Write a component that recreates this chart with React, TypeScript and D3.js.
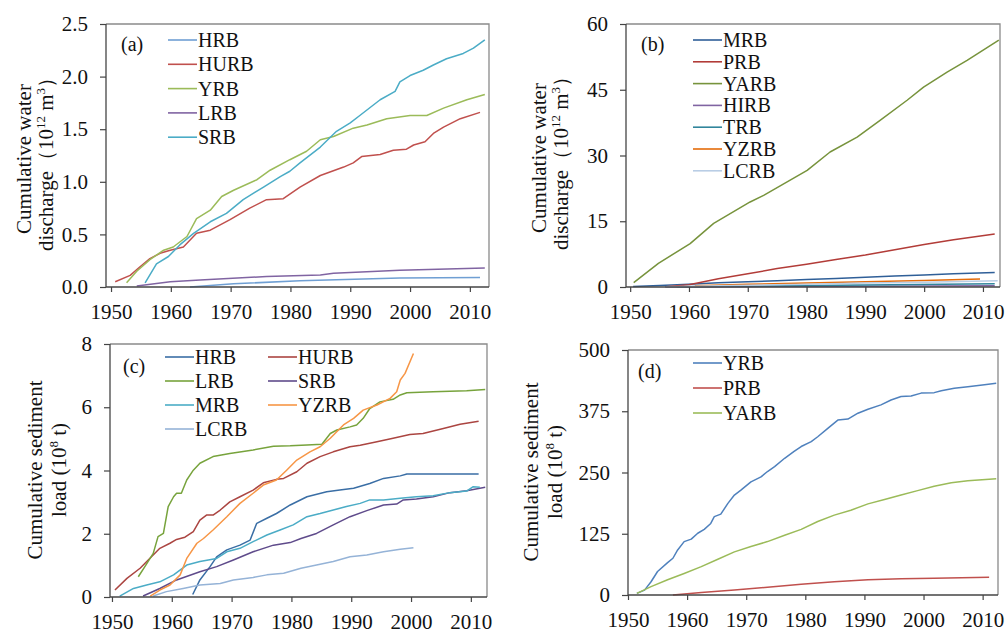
import React, { useRef, useEffect } from "react";
import * as d3 from "d3";

type Pt = [number, number];

// (a) cumulative water discharge (10^12 m3)
const aHRB: Pt[] = [[1963.2, 0], [1970.5, 0.03], [1981.6, 0.06], [1998.3, 0.085], [2011.7, 0.09]];
const aHURB: Pt[] = [[1950.7, 0.05], [1953.2, 0.11], [1954.8, 0.19], [1956.5, 0.27], [1958.2, 0.32], [1959.9, 0.35], [1962.1, 0.38], [1964.3, 0.51], [1966.6, 0.54], [1969.9, 0.64], [1973.2, 0.75], [1976, 0.83], [1978.8, 0.84], [1981.6, 0.95], [1985, 1.06], [1988.9, 1.14], [1990.5, 1.18], [1991.9, 1.24], [1995, 1.26], [1997.2, 1.3], [1999.4, 1.31], [2000.6, 1.35], [2002.5, 1.38], [2003.9, 1.46], [2005.6, 1.52], [2008.4, 1.6], [2011.7, 1.66]];
const aYRB: Pt[] = [[1952.6, 0.04], [1954.3, 0.15], [1956.5, 0.26], [1958.8, 0.35], [1960.4, 0.38], [1962.7, 0.48], [1964.3, 0.65], [1966.6, 0.73], [1968.5, 0.86], [1970.5, 0.92], [1974.4, 1.02], [1976.6, 1.11], [1979.9, 1.21], [1982.7, 1.29], [1985, 1.4], [1987.2, 1.43], [1990.5, 1.51], [1992.8, 1.54], [1996.1, 1.6], [2000, 1.63], [2002.8, 1.63], [2005.6, 1.7], [2009.5, 1.78], [2012.5, 1.83]];
const aLRB: Pt[] = [[1954.3, 0.01], [1959.9, 0.05], [1964.9, 0.067], [1976, 0.1], [1985, 0.115], [1987.2, 0.13], [1998.3, 0.16], [2012.5, 0.18]];
const aSRB: Pt[] = [[1955.7, 0.04], [1957.6, 0.22], [1959.6, 0.29], [1961.5, 0.4], [1963.8, 0.51], [1966.6, 0.62], [1969.3, 0.7], [1972.1, 0.83], [1975.5, 0.95], [1978.3, 1.05], [1979.9, 1.1], [1981.6, 1.18], [1985, 1.33], [1987.7, 1.48], [1990, 1.56], [1991.6, 1.63], [1995, 1.78], [1997.5, 1.86], [1998.3, 1.95], [2000, 2.01], [2002.2, 2.06], [2003.9, 2.11], [2006.1, 2.17], [2008.9, 2.22], [2010.6, 2.27], [2012.5, 2.35]];

// (b) cumulative water discharge (10^12 m3)
const bMRB: Pt[] = [[1950.5, 0.1], [1955, 0.35], [1960, 0.65], [1965, 0.95], [1970, 1.2], [1975, 1.45], [1980, 1.7], [1985, 1.95], [1990, 2.25], [1995, 2.5], [2000, 2.75], [2005, 3.0], [2012, 3.3]];
const bPRB: Pt[] = [[1956, 0.05], [1958, 0.3], [1960, 0.5], [1965, 1.9], [1970, 3.0], [1975, 4.2], [1980, 5.2], [1985, 6.3], [1990, 7.3], [1995, 8.5], [2000, 9.7], [2005, 10.8], [2012, 12.1]];
const bYARB: Pt[] = [[1950.6, 1.0], [1954.8, 5.4], [1960.2, 9.9], [1964.2, 14.5], [1970.4, 19.4], [1972.7, 20.9], [1980.1, 26.6], [1984, 30.8], [1988.6, 34.2], [1992.5, 38], [1997.1, 42.6], [1999.9, 45.6], [2003.9, 49], [2007.3, 51.7], [2012.7, 56.3]];
const bHIRB: Pt[] = [[1956, 0.02], [1970, 0.08], [1990, 0.18], [2012, 0.3]];
const bTRB: Pt[] = [[1958, 0.05], [1970, 0.2], [1990, 0.45], [2012, 0.75]];
const bYZRB: Pt[] = [[1961, 0.3], [1970, 0.6], [1980, 0.9], [1990, 1.2], [2000, 1.5], [2009.5, 1.8]];
const bLCRB: Pt[] = [[1956, 0.05], [1970, 0.4], [1980, 0.65], [1990, 0.9], [2000, 1.1], [2012.5, 1.4]];

// (c) cumulative sediment load (10^8 t)
const cHRB: Pt[] = [[1963.5, 0.08], [1964.7, 0.54], [1966.4, 0.96], [1967.5, 1.27], [1969.2, 1.49], [1971.4, 1.64], [1973.1, 1.8], [1974.2, 2.33], [1975.9, 2.49], [1977.5, 2.64], [1979.8, 2.91], [1982.6, 3.17], [1985.9, 3.33], [1988.1, 3.38], [1990.4, 3.44], [1993.1, 3.59], [1995.4, 3.75], [1998.2, 3.83], [1999.3, 3.89], [2003.7, 3.89], [2011.3, 3.89]];
const cHURB: Pt[] = [[1950.5, 0.22], [1952.5, 0.59], [1954.7, 0.91], [1956.6, 1.27], [1958, 1.54], [1959.7, 1.7], [1960.8, 1.82], [1962.2, 1.89], [1963.6, 2.07], [1964.7, 2.43], [1965.8, 2.59], [1966.9, 2.59], [1968.1, 2.75], [1969.7, 3.01], [1971.4, 3.17], [1973.6, 3.38], [1975.3, 3.61], [1977.5, 3.72], [1978.7, 3.75], [1980.9, 3.96], [1982.6, 4.23], [1984.8, 4.44], [1987, 4.59], [1989.8, 4.75], [1991.5, 4.8], [1994.3, 4.91], [1997, 5.02], [1999.8, 5.14], [2002, 5.17], [2005.4, 5.33], [2008.2, 5.46], [2011.3, 5.56]];
const cLRB: Pt[] = [[1954.4, 0.64], [1955.5, 0.96], [1956.9, 1.38], [1957.7, 1.91], [1958.6, 2.01], [1959.4, 2.86], [1960.3, 3.17], [1960.8, 3.28], [1961.6, 3.28], [1962.5, 3.7], [1963.6, 4.01], [1964.7, 4.23], [1966.9, 4.44], [1969.7, 4.54], [1973.6, 4.65], [1977, 4.77], [1979.8, 4.78], [1982.6, 4.81], [1985.1, 4.83], [1986.5, 5.17], [1987.6, 5.28], [1989.8, 5.38], [1990.9, 5.44], [1992, 5.65], [1993.1, 5.96], [1994.8, 6.17], [1997, 6.25], [1998.2, 6.39], [1999.3, 6.46], [2003.7, 6.49], [2009.3, 6.52], [2012.4, 6.56]];
const cSRB: Pt[] = [[1955.2, 0.03], [1958, 0.27], [1960.8, 0.54], [1964.7, 0.8], [1967.5, 0.96], [1970.3, 1.17], [1973.6, 1.43], [1977, 1.64], [1979.8, 1.72], [1981.6, 1.85], [1984.2, 2.01], [1987, 2.28], [1989.8, 2.54], [1992.6, 2.73], [1995.4, 2.91], [1997.6, 2.94], [1998.7, 3.07], [2000.9, 3.1], [2003.7, 3.17], [2006.5, 3.3], [2009.3, 3.36], [2012.4, 3.47]];
const cMRB: Pt[] = [[1951.3, 0.03], [1953.6, 0.27], [1955.8, 0.38], [1958, 0.48], [1960.3, 0.7], [1962.5, 1.01], [1964.7, 1.12], [1967.5, 1.22], [1969.2, 1.43], [1971.4, 1.54], [1973.6, 1.75], [1975.9, 1.96], [1978.1, 2.12], [1980.3, 2.28], [1982.6, 2.54], [1984.8, 2.64], [1987, 2.75], [1989.2, 2.86], [1991.5, 2.96], [1993.1, 3.07], [1995.4, 3.07], [1998.2, 3.12], [2000.9, 3.17], [2003.7, 3.2], [2006.5, 3.3], [2009.3, 3.35], [2010.4, 3.49], [2011.5, 3.47]];
const cYZRB: Pt[] = [[1956.4, 0.03], [1958, 0.22], [1959.7, 0.38], [1961.4, 0.7], [1962.5, 1.22], [1964.2, 1.7], [1965.3, 1.85], [1966.9, 2.12], [1969.2, 2.54], [1971.4, 2.96], [1973.6, 3.28], [1975.3, 3.54], [1977.5, 3.7], [1979.2, 4.01], [1980.9, 4.33], [1983.1, 4.59], [1984.8, 4.75], [1986.5, 5.02], [1988.7, 5.44], [1990.4, 5.65], [1992, 5.91], [1994.3, 6.07], [1996.5, 6.28], [1997.6, 6.49], [1998.2, 6.86], [1999, 7.07], [2000.4, 7.7]];
const cLCRB: Pt[] = [[1956.9, 0.03], [1959.1, 0.17], [1961.9, 0.27], [1964.7, 0.38], [1968.1, 0.43], [1970.3, 0.54], [1973.6, 0.62], [1975.9, 0.7], [1978.7, 0.75], [1981.6, 0.91], [1984.2, 1.01], [1987, 1.12], [1989.8, 1.27], [1992.6, 1.33], [1995.4, 1.43], [1998.2, 1.51], [2000.4, 1.56]];

// (d) cumulative sediment load (10^8 t)
const dYRB: Pt[] = [[1951.5, 3.4], [1952.8, 10], [1953.9, 27], [1955, 48], [1956.7, 66], [1957.6, 75], [1958.4, 92], [1959.5, 109], [1960.7, 114], [1961.8, 126], [1962.9, 134], [1964, 146], [1964.6, 160], [1965.7, 165], [1966.9, 187], [1968, 204], [1969.1, 214], [1970.8, 231], [1972.5, 241], [1973.6, 252], [1974.8, 262], [1976.5, 279], [1978.1, 293], [1979.3, 303], [1981, 313], [1982.1, 323], [1983.8, 340], [1985.5, 357], [1987.2, 359], [1988.9, 371], [1990.6, 379], [1992.8, 388], [1994.5, 398], [1996.2, 405], [1997.9, 406], [1999.6, 412], [2001.8, 413], [2003, 417], [2005.2, 422], [2007.5, 425], [2010.3, 429], [2012.3, 432]];
const dPRB: Pt[] = [[1957.6, 0], [1962.4, 5], [1968, 10], [1973.6, 16], [1979.3, 22], [1984.9, 27], [1990.6, 31], [1996.2, 33], [2001.8, 34], [2011.1, 36]];
const dYARB: Pt[] = [[1951.5, 3.4], [1953.9, 17], [1956.7, 31], [1959.5, 44], [1962.4, 58], [1965.2, 73], [1968, 88], [1970.8, 99], [1973.6, 109], [1976.5, 122], [1979.3, 134], [1982.1, 150], [1984.9, 163], [1987.7, 173], [1990.6, 186], [1993.4, 195], [1996.2, 204], [1999, 213], [2001.8, 222], [2004.7, 229], [2007.5, 233], [2012.3, 237]];

const yearTicks = [1950, 1960, 1970, 1980, 1990, 2000, 2010];
const aTicks = [0, 0.5, 1.0, 1.5, 2.0, 2.5];
const bTicks = [0, 15, 30, 45, 60];
const cTicks = [0, 2, 4, 6, 8];
const dTicks = [0, 125, 250, 375, 500];

type Seg = { t: string; sup?: boolean };
interface Series { name: string; color: string; data: Pt[] }
interface Panel {
  tag: string;
  box: { l: number; r: number; t: number; b: number };
  xDom: [number, number];
  yTicks: number[];
  fmt: (v: number) => string;
  label: { lines: Seg[][]; xs: number[]; cy: number };
  legend: { x: number[]; y: number; step: number; cols: number };
  tagPos: [number, number];
  series: Series[];
}

const waterUnit: Seg[] = [{ t: "discharge（10" }, { t: "12", sup: true }, { t: " m" }, { t: "3", sup: true }, { t: "）" }];
const sedUnit: Seg[] = [{ t: "load (10" }, { t: "8", sup: true }, { t: " t)" }];

const panels: Panel[] = [
  {
    tag: "(a)", box: { l: 106, r: 489, t: 24, b: 287 }, xDom: [1949.16, 2013.2],
    yTicks: aTicks, fmt: d3.format(".1f"),
    label: { lines: [[{ t: "Cumulative water" }], waterUnit], xs: [31, 53], cy: 159 },
    legend: { x: [168], y: 40, step: 24.3, cols: 1 }, tagPos: [121, 51],
    series: [
      { name: "HRB", color: "#6f9fd3", data: aHRB },
      { name: "HURB", color: "#c0504d", data: aHURB },
      { name: "YRB", color: "#9bbb59", data: aYRB },
      { name: "LRB", color: "#8064a2", data: aLRB },
      { name: "SRB", color: "#4bacc6", data: aSRB },
    ],
  },
  {
    tag: "(b)", box: { l: 626, r: 1000, t: 24, b: 287 }, xDom: [1949.29, 2012.9],
    yTicks: bTicks, fmt: d3.format("d"),
    label: { lines: [[{ t: "Cumulative water" }], waterUnit], xs: [546, 568], cy: 158 },
    legend: { x: [693], y: 40, step: 21.8, cols: 1 }, tagPos: [641, 51],
    series: [
      { name: "MRB", color: "#2f5f98", data: bMRB },
      { name: "PRB", color: "#b23c38", data: bPRB },
      { name: "YARB", color: "#77933c", data: bYARB },
      { name: "HIRB", color: "#8064a2", data: bHIRB },
      { name: "TRB", color: "#31859c", data: bTRB },
      { name: "YZRB", color: "#e46c0a", data: bYZRB },
      { name: "LCRB", color: "#b9cde5", data: bLCRB },
    ],
  },
  {
    tag: "(c)", box: { l: 110, r: 487, t: 344, b: 597 }, xDom: [1949.67, 2012.7],
    yTicks: cTicks, fmt: d3.format("d"),
    label: { lines: [[{ t: "Cumulative sediment" }], sedUnit], xs: [42, 66], cy: 470 },
    legend: { x: [165, 268], y: 357, step: 24, cols: 2 }, tagPos: [123, 373],
    series: [
      { name: "HRB", color: "#3a6ea5", data: cHRB },
      { name: "HURB", color: "#ab4541", data: cHURB },
      { name: "LRB", color: "#77a33c", data: cLRB },
      { name: "SRB", color: "#5f4b8b", data: cSRB },
      { name: "MRB", color: "#4bacc6", data: cMRB },
      { name: "YZRB", color: "#f79646", data: cYZRB },
      { name: "LCRB", color: "#95b3d7", data: cLCRB },
    ],
  },
  {
    tag: "(d)", box: { l: 628, r: 998, t: 350, b: 595 }, xDom: [1950, 2012.6],
    yTicks: dTicks, fmt: d3.format("d"),
    label: { lines: [[{ t: "Cumulative sediment" }], sedUnit], xs: [538, 562], cy: 472 },
    legend: { x: [693], y: 363, step: 25, cols: 1 }, tagPos: [638, 378],
    series: [
      { name: "YRB", color: "#4f81bd", data: dYRB },
      { name: "PRB", color: "#c0504d", data: dPRB },
      { name: "YARB", color: "#9bbb59", data: dYARB },
    ],
  },
];

const FONT = "Liberation Serif, Tinos, Times New Roman, DejaVu Serif, serif";

const App: React.FC = () => {
  const ref = useRef<SVGSVGElement | null>(null);

  useEffect(() => {
    if (!ref.current) return;
    const svg = d3.select(ref.current);
    svg.selectAll("*").remove();

    panels.forEach((p) => {
      const { l, r, t, b } = p.box;
      const x = d3.scaleLinear().domain(p.xDom).range([l, r]);
      const yMax = p.yTicks[p.yTicks.length - 1];
      const y = d3.scaleLinear().domain([0, yMax]).range([b, t]);
      const g = svg.append("g");

      // box: top / right in grey
      g.append("path")
        .attr("d", `M${l},${t}H${r}V${b}`)
        .attr("fill", "none")
        .attr("stroke", "#8a8a8a")
        .attr("stroke-width", 1.3);

      // lines
      const line = d3
        .line<Pt>()
        .x((d) => x(d[0]))
        .y((d) => y(d[1]));
      p.series.forEach((s) => {
        g.append("path")
          .datum(s.data)
          .attr("d", line)
          .attr("fill", "none")
          .attr("stroke", s.color)
          .attr("stroke-width", 1.5)
          .attr("stroke-linejoin", "round");
      });

      // axes
      const xAxis = d3.axisBottom(x).tickValues(yearTicks).tickFormat(d3.format("d")).tickSize(5).tickSizeOuter(0).tickPadding(12);
      const yAxis = d3.axisLeft(y).tickValues(p.yTicks).tickFormat(p.fmt as any).tickSize(6).tickSizeOuter(0).tickPadding(12);
      const gx = g.append("g").attr("transform", `translate(0,${b})`).call(xAxis);
      const gy = g.append("g").attr("transform", `translate(${l},0)`).call(yAxis);
      [gx, gy].forEach((ax) => {
        ax.attr("font-family", null).attr("font-size", null);
        ax.select(".domain").remove();
        ax.selectAll("line").attr("stroke", "#444").attr("stroke-width", 1.2);
        ax.selectAll("text").style("font-family", FONT).style("font-size", "21px").attr("fill", "#111");
      });
      g.append("line").attr("x1", l).attr("x2", l).attr("y1", t).attr("y2", b).attr("stroke", "#444").attr("stroke-width", 1.3);
      g.append("line").attr("x1", l).attr("x2", r).attr("y1", b).attr("y2", b).attr("stroke", "#444").attr("stroke-width", 1.3);

      // panel tag
      g.append("text")
        .attr("x", p.tagPos[0])
        .attr("y", p.tagPos[1])
        .style("font-family", FONT)
        .style("font-size", "20px")
        .attr("fill", "#111")
        .text(p.tag);

      // legend
      const lg = g.append("g");
      p.series.forEach((s, i) => {
        const col = i % p.legend.cols;
        const row = Math.floor(i / p.legend.cols);
        const lx = p.legend.x[col];
        const ly = p.legend.y + row * p.legend.step;
        lg.append("line")
          .attr("x1", lx).attr("x2", lx + 29)
          .attr("y1", ly).attr("y2", ly)
          .attr("stroke", s.color).attr("stroke-width", 1.6);
        lg.append("text")
          .attr("x", lx + 30)
          .attr("y", ly)
          .attr("dy", "0.35em")
          .style("font-family", FONT)
          .style("font-size", "20px")
          .attr("fill", "#111")
          .text(s.name);
      });

      // y label (two rotated lines)
      p.label.lines.forEach((segs, i) => {
        const tx = g.append("text")
          .attr("transform", `translate(${p.label.xs[i]},${p.label.cy}) rotate(-90)`)
          .attr("text-anchor", "middle")
          .style("font-family", FONT)
          .style("font-size", "21px")
          .attr("fill", "#111");
        let up = false;
        segs.forEach((sg) => {
          const ts = tx.append("tspan").text(sg.t);
          if (sg.sup) {
            ts.style("font-size", "13px").attr("dy", -8);
            up = true;
          } else if (up) {
            ts.attr("dy", 8);
            up = false;
          }
        });
      });
    });
  }, []);

  return (
    <svg
      ref={ref}
      width={1008}
      height={633}
      style={{ position: "absolute", left: 0, top: 0, background: "#fff", fontFamily: FONT }}
    />
  );
};

export default App;
